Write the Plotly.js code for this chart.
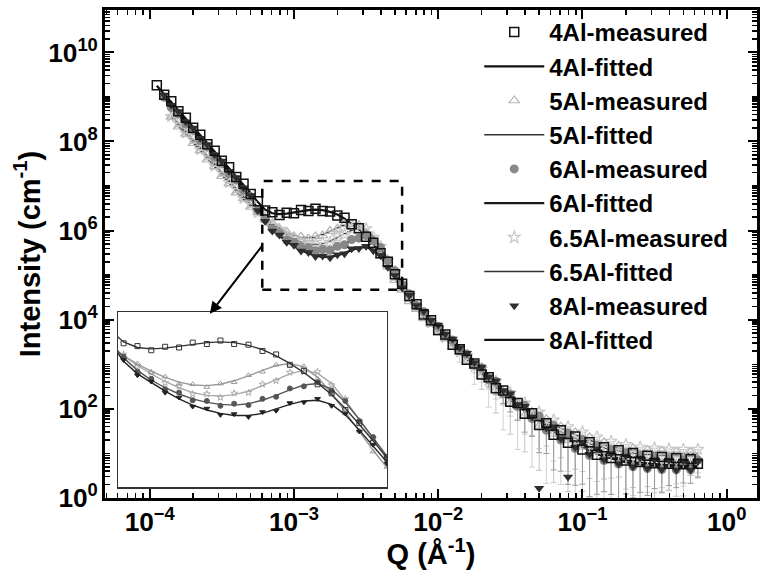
<!DOCTYPE html>
<html>
<head>
<meta charset="utf-8">
<script src="https://cdn.plot.ly/plotly-3.0.1.min.js"></script>
<style>html,body{margin:0;padding:0;background:#fff;}#chart{width:767px;height:570px;}</style>
</head>
<body>
<div id="chart"></div>
<script>
// Scattering vector Q (1/Angstrom), shared grid
const Q = [1.12e-4,1.26e-4,1.41e-4,1.58e-4,1.78e-4,2.00e-4,2.24e-4,2.51e-4,2.82e-4,3.16e-4,3.55e-4,3.98e-4,4.47e-4,5.01e-4,5.62e-4,6.31e-4,7.08e-4,7.94e-4,8.91e-4,
 1.00e-3,1.12e-3,1.26e-3,1.41e-3,1.58e-3,1.78e-3,2.00e-3,2.24e-3,2.51e-3,2.82e-3,3.16e-3,3.55e-3,3.98e-3,4.47e-3,5.01e-3,5.62e-3,6.31e-3,7.08e-3,7.94e-3,8.91e-3,
 1.00e-2,1.12e-2,1.26e-2,1.41e-2,1.58e-2,1.78e-2,2.00e-2,2.24e-2,2.51e-2,2.82e-2,3.16e-2,3.55e-2,3.98e-2,4.47e-2,5.01e-2,5.62e-2,6.31e-2,7.08e-2,7.94e-2,8.91e-2,
 1.00e-1,1.12e-1,1.26e-1,1.41e-1,1.58e-1,1.78e-1,2.00e-1,2.24e-1,2.51e-1,2.82e-1,3.16e-1,3.55e-1,3.98e-1,4.47e-1,5.01e-1,5.62e-1,6.31e-1];

// Intensities as log10(I / cm^-1)
const log10I_4Al_measured = [9.26,9.05,8.90,8.68,8.53,8.31,8.15,7.94,7.79,7.57,
 7.42,7.20,7.05,6.82,6.66,6.45,6.41,6.35,6.40,6.39,
 6.46,6.44,6.49,6.44,6.43,6.34,6.29,6.14,6.05,5.86,
 5.73,5.49,5.30,5.02,4.81,4.53,4.35,4.12,3.99,3.77,
 3.67,3.44,3.34,3.10,3.02,2.77,2.71,2.46,2.41,2.16,
 2.13,1.89,1.90,1.64,1.68,1.42,1.52,1.24,1.38,1.09,
 1.25,0.97,1.14,0.90,1.07,0.84,1.01,0.81,0.95,0.78,
 0.92,0.77,0.89,0.76,0.87,0.77];
const log10I_4Al_fitted = [9.25,9.07,8.88,8.70,8.51,8.33,8.14,7.96,7.77,7.59,
 7.40,7.22,7.03,6.84,6.64,6.47,6.39,6.37,6.38,6.41,
 6.44,6.46,6.47,6.46,6.42,6.36,6.27,6.16,6.03,5.88,
 5.71,5.51,5.28,5.04,4.79,4.55,4.33,4.14,3.97,3.80,
 3.64,3.47,3.31,3.14,2.98,2.82,2.66,2.51,2.36,2.22,
 2.08,1.95,1.83,1.71,1.60,1.50,1.41,1.33,1.25,1.18,
 1.12,1.07,1.03,0.99,0.96,0.93,0.91,0.89,0.87,0.86,
 0.85,0.84,0.83,0.82,0.81,0.80];

const log10I_5Al_measured = [null,null,8.55,8.33,8.17,7.96,7.80,7.59,7.44,7.22,
 7.06,6.85,6.72,6.53,6.41,6.25,6.16,6.03,5.97,5.87,
 5.86,5.82,5.87,5.89,5.99,6.04,6.14,6.14,6.12,5.94,
 5.74,5.44,5.19,4.89,4.67,4.41,4.24,4.03,3.90,3.71,
 3.58,3.39,3.27,3.06,2.96,2.74,2.67,2.43,2.39,2.13,
 2.14,1.86,1.93,1.62,1.77,1.44,1.60,1.30,1.47,1.15,
 1.36,1.05,1.25,0.98,1.17,0.92,1.12,0.88,1.08,0.87,
 1.06,0.86,1.04,0.87,1.03,0.88];
const log10I_5Al_fitted = [null,null,8.53,8.35,8.16,7.98,7.79,7.61,7.42,7.24,
 7.05,6.87,6.70,6.55,6.40,6.27,6.15,6.05,5.96,5.89,
 5.85,5.84,5.86,5.91,5.98,6.06,6.13,6.16,6.11,5.96,
 5.73,5.46,5.18,4.91,4.66,4.43,4.23,4.05,3.89,3.73,
 3.57,3.41,3.25,3.09,2.93,2.78,2.63,2.48,2.34,2.20,
 2.07,1.95,1.84,1.74,1.65,1.56,1.48,1.41,1.34,1.28,
 1.22,1.17,1.13,1.09,1.06,1.03,1.01,0.99,0.98,0.97,
 0.96,0.96,0.95,0.95,0.95,0.95];

const log10I_6Al_measured = [null,8.99,8.76,8.62,8.39,8.25,8.02,7.88,7.65,7.51,
 7.28,7.14,6.91,6.76,6.46,6.26,6.04,5.94,5.79,5.74,
 5.63,5.62,5.55,5.58,5.56,5.65,5.68,5.80,5.83,5.89,
 5.77,5.62,5.33,5.10,4.79,4.58,4.32,4.18,3.97,3.85,
 3.64,3.54,3.31,3.23,2.98,2.92,2.65,2.62,2.34,2.33,
 2.05,2.08,1.78,1.84,1.52,1.63,1.30,1.46,1.11,1.31,
 0.95,1.18,0.84,1.08,0.76,1.01,0.70,0.95,0.66,0.91,
 0.64,0.88,0.63,0.86,0.63,0.85];
const log10I_6Al_fitted = [null,8.97,8.78,8.60,8.41,8.23,8.04,7.86,7.67,7.49,
 7.30,7.12,6.93,6.74,6.48,6.24,6.06,5.92,5.81,5.72,
 5.65,5.60,5.57,5.56,5.58,5.63,5.70,5.78,5.85,5.87,
 5.79,5.60,5.35,5.08,4.81,4.56,4.34,4.16,3.99,3.83,
 3.67,3.51,3.35,3.19,3.03,2.87,2.71,2.56,2.41,2.27,
 2.13,2.00,1.87,1.75,1.63,1.52,1.42,1.33,1.24,1.16,
 1.09,1.03,0.98,0.93,0.89,0.85,0.82,0.80,0.78,0.76,
 0.75,0.74,0.73,0.72,0.72,0.72];

const log10I_65Al_measured = [null,null,8.56,8.42,8.19,8.05,7.82,7.68,7.45,7.31,
 7.08,6.94,6.72,6.60,6.40,6.29,6.11,6.03,5.88,5.83,
 5.72,5.72,5.67,5.73,5.74,5.86,5.91,6.03,6.04,6.04,
 5.85,5.65,5.33,5.08,4.76,4.55,4.29,4.14,3.93,3.81,
 3.60,3.50,3.27,3.19,2.95,2.90,2.64,2.62,2.35,2.36,
 2.09,2.13,1.85,1.93,1.63,1.75,1.46,1.60,1.30,1.48,
 1.18,1.37,1.09,1.27,1.03,1.20,0.98,1.14,0.95,1.12,
 0.93,1.10,0.92,1.09,0.91,1.09];
const log10I_65Al_fitted = [null,null,8.58,8.40,8.21,8.03,7.84,7.66,7.47,7.29,
 7.10,6.92,6.74,6.58,6.42,6.27,6.13,6.01,5.90,5.81,
 5.74,5.70,5.69,5.71,5.76,5.84,5.93,6.01,6.06,6.02,
 5.87,5.63,5.35,5.06,4.78,4.53,4.31,4.12,3.95,3.79,
 3.63,3.47,3.31,3.15,3.00,2.85,2.70,2.56,2.42,2.29,
 2.17,2.05,1.94,1.84,1.74,1.65,1.57,1.49,1.42,1.35,
 1.29,1.24,1.19,1.15,1.12,1.09,1.07,1.05,1.04,1.03,
 1.02,1.01,1.01,1.00,1.00,1.00];

const log10I_8Al_measured = [null,9.04,8.81,8.67,8.44,8.30,8.07,7.93,7.70,7.56,
 7.33,7.19,6.96,6.79,6.45,6.21,5.99,5.90,5.74,5.67,
 5.54,5.51,5.42,5.43,5.39,5.46,5.48,5.59,5.60,5.65,
 5.55,5.44,5.18,4.99,4.72,4.55,4.32,4.19,3.99,3.88,
 3.68,3.57,3.37,3.25,3.04,2.94,2.72,2.63,2.41,2.34,
 2.10,2.06,1.82,0.22,1.57,1.60,1.33,0.47,1.14,1.25,
 0.98,1.10,0.86,1.00,0.77,0.94,0.70,0.90,0.66,0.86,
 0.64,0.84,0.63,0.83,0.63,0.82];
const log10I_8Al_fitted = [null,9.02,8.83,8.65,8.46,8.28,8.09,7.91,7.72,7.54,
 7.35,7.17,6.98,6.77,6.47,6.19,6.01,5.88,5.76,5.65,
 5.56,5.49,5.44,5.41,5.41,5.44,5.50,5.57,5.62,5.63,
 5.57,5.42,5.20,4.97,4.74,4.53,4.34,4.17,4.01,3.86,
 3.70,3.55,3.39,3.23,3.07,2.91,2.75,2.60,2.45,2.30,
 2.15,2.01,1.88,1.75,1.63,1.52,1.41,1.31,1.22,1.14,
 1.06,0.99,0.93,0.88,0.84,0.80,0.77,0.75,0.73,0.72,
 0.71,0.70,0.70,0.70,0.70,0.70];

// Lower error bars as fraction of intensity (high-Q points only)
const errFrac_5Al = Array(44).fill(null).concat([0.3,0.5,0.4,0.7,0.5,0.8,0.6,0.85,0.7,0.9,0.75,0.92,0.8,0.93,0.85,0.9,0.88,0.93,0.85,0.9,0.8,0.92,0.87,0.9,0.85,0.9,0.88,0.8,0.9,0.85,0.7,0.6]);
const errFrac_65Al = Array(42).fill(null).concat([0.4,0.3,0.6,0.5,0.75,0.6,0.85,0.7,0.9,0.8,0.93,0.85,0.95,0.88,0.93,0.9,0.95,0.87,0.93,0.9,0.95,0.85,0.92,0.9,0.88,0.93,0.85,0.9,0.8,0.88,0.75,0.85,0.6,0.7]);
const errFrac_6Al = Array(46).fill(null).concat([0.3,0.5,0.4,0.6,0.5,0.75,0.6,0.85,0.7,0.9,0.8,0.93,0.85,0.9,0.88,0.92,0.8,0.9,0.85,0.88,0.8,0.85,0.75,0.8,0.7,0.75,0.6,0.7,0.5,0.6]);

const seriesNames = ['4Al','5Al','6Al','6.5Al','8Al'];

const toI = a => a.map(v => v === null ? null : Math.pow(10, v));
const errMinus = (lg, f) => lg.map((v, i) => (v === null || f[i] === null || f[i] === undefined) ? null : Math.pow(10, v) * f[i]);
const errPlus = (lg, f) => lg.map((v, i) => (v === null || f[i] === null || f[i] === undefined) ? null : 0);

const FONT = 'Liberation Sans, Arial, sans-serif';

const styles = {
  '4Al':   {meas: log10I_4Al_measured,  fit: log10I_4Al_fitted,  sym: 'square-open',      mcol: '#111111', lcol: '#111111', lw: 2.2, icol: '#333333', err: null, ecol: null, mlw: 1.5},
  '5Al':   {meas: log10I_5Al_measured,  fit: log10I_5Al_fitted,  sym: 'triangle-up-open', mcol: '#b5b5b5', lcol: '#333333', lw: 1.6, icol: '#999999', err: errFrac_5Al, ecol: '#c4c4c4', mlw: 1.2},
  '6Al':   {meas: log10I_6Al_measured,  fit: log10I_6Al_fitted,  sym: 'circle',           mcol: '#888888', lcol: '#1a1a1a', lw: 2.2, icol: '#555555', err: errFrac_6Al, ecol: '#9a9a9a', mlw: 0},
  '6.5Al': {meas: log10I_65Al_measured, fit: log10I_65Al_fitted, sym: 'star-open',        mcol: '#c8c8c8', lcol: '#333333', lw: 1.6, icol: '#aaaaaa', err: errFrac_65Al, ecol: '#d0d0d0', mlw: 1.2},
  '8Al':   {meas: log10I_8Al_measured,  fit: log10I_8Al_fitted,  sym: 'triangle-down',    mcol: '#2e2e2e', lcol: '#111111', lw: 2.2, icol: '#222222', err: null, ecol: null, mlw: 0}
};

const traces = [];
// fitted lines (drawn under the markers in the main plot)
seriesNames.forEach((n, k) => {
  const s = styles[n];
  traces.push({
    x: Q, y: toI(s.fit), type: 'scatter', mode: 'lines', name: n + '-fitted',
    line: {color: s.lcol, width: s.lw}, legendrank: 2 * k + 2, connectgaps: false
  });
});
// measured markers, lightest first
['6.5Al','5Al','6Al','8Al','4Al'].forEach(n => {
  const k = seriesNames.indexOf(n);
  const s = styles[n];
  const tr = {
    x: Q, y: toI(s.meas), type: 'scatter', mode: 'markers', name: n + '-measured',
    marker: {symbol: s.sym, size: 9, color: s.mcol, line: {color: s.mcol, width: s.mlw}},
    legendrank: 2 * k + 1
  };
  if (s.err) {
    tr.error_y = {type: 'data', symmetric: false, array: errPlus(s.meas, s.err), arrayminus: errMinus(s.meas, s.err),
                  color: s.ecol, thickness: 1, width: 3};
  }
  traces.push(tr);
});
// inset: same data, magnified
['6.5Al','5Al','6Al','8Al','4Al'].forEach(n => {
  const s = styles[n];
  traces.push({
    x: Q, y: toI(s.meas), type: 'scatter', mode: 'markers', xaxis: 'x2', yaxis: 'y2', showlegend: false,
    marker: {symbol: s.sym, size: 5, color: s.icol, line: {color: s.icol, width: 1}}, hoverinfo: 'skip'
  });
  traces.push({
    x: Q, y: toI(s.fit), type: 'scatter', mode: 'lines', xaxis: 'x2', yaxis: 'y2', showlegend: false,
    line: {color: s.icol, width: 1.4}, hoverinfo: 'skip'
  });
});

const axisCommon = {
  type: 'log', showline: true, linewidth: 3, linecolor: '#000', mirror: 'allticks',
  ticks: 'inside', ticklen: 9, tickwidth: 2, tickcolor: '#000',
  showgrid: false, zeroline: false, exponentformat: 'power',
  tickfont: {family: FONT, size: 21, color: '#000', weight: 'bold'},
  minor: {ticks: 'inside', ticklen: 5, tickwidth: 1.5, tickcolor: '#000', dtick: 'D1', showgrid: false},
  labelalias: {'1': '10<sup>0</sup>', '10': '10<sup>1</sup>'}
};

const layout = {
  width: 767, height: 570,
  margin: {l: 105, r: 10, t: 10, b: 72},
  paper_bgcolor: '#fff', plot_bgcolor: '#fff',
  font: {family: FONT, color: '#000'},
  showlegend: true,
  xaxis: Object.assign({}, axisCommon, {
    range: [-4.31, 0.21], dtick: 1,
    title: {text: 'Q (Å<sup>-1</sup>)', font: {family: FONT, size: 29, weight: 'bold', color: '#000'}, standoff: 0}
  }),
  yaxis: Object.assign({}, axisCommon, {
    range: [0, 10.95], dtick: 2,
    title: {text: 'Intensity (cm<sup>-1</sup>)', font: {family: FONT, size: 29, weight: 'bold', color: '#000'}, standoff: 0}
  }),
  xaxis2: {type: 'log', domain: [0.020, 0.4325], anchor: 'y2', range: [-3.22, -2.25],
           showline: true, mirror: true, linecolor: '#333', linewidth: 1.5, showticklabels: false,
           ticks: '', showgrid: false, zeroline: false},
  yaxis2: {type: 'log', domain: [0.0225, 0.381], anchor: 'x2', range: [4.38, 6.9],
           showline: true, mirror: true, linecolor: '#333', linewidth: 1.5, showticklabels: false,
           ticks: '', showgrid: false, zeroline: false},
  legend: {x: 0.574, xanchor: 'left', y: 1.0, yanchor: 'top', bgcolor: 'rgba(0,0,0,0)',
           borderwidth: 0, itemwidth: 60, tracegroupgap: 0, maxheight: 560,
           font: {family: FONT, size: 24, weight: 'bold', color: '#000'}},
  shapes: [{type: 'rect', xref: 'x', yref: 'y', x0: 6.03e-4, x1: 5.62e-3, y0: 4.68e4, y1: 1.29e7,
            line: {color: '#000', width: 2.5, dash: 'dash'}, fillcolor: 'rgba(0,0,0,0)'}],
  annotations: [{xref: 'x', yref: 'y', x: -3.583, y: 4.133, ax: 53, ay: -69, text: '',
                 showarrow: true, arrowhead: 2, arrowsize: 1.2, arrowwidth: 2, arrowcolor: '#000'}]
};

Plotly.newPlot('chart', traces, layout, {displayModeBar: false, staticPlot: true});
</script>
</body>
</html>
